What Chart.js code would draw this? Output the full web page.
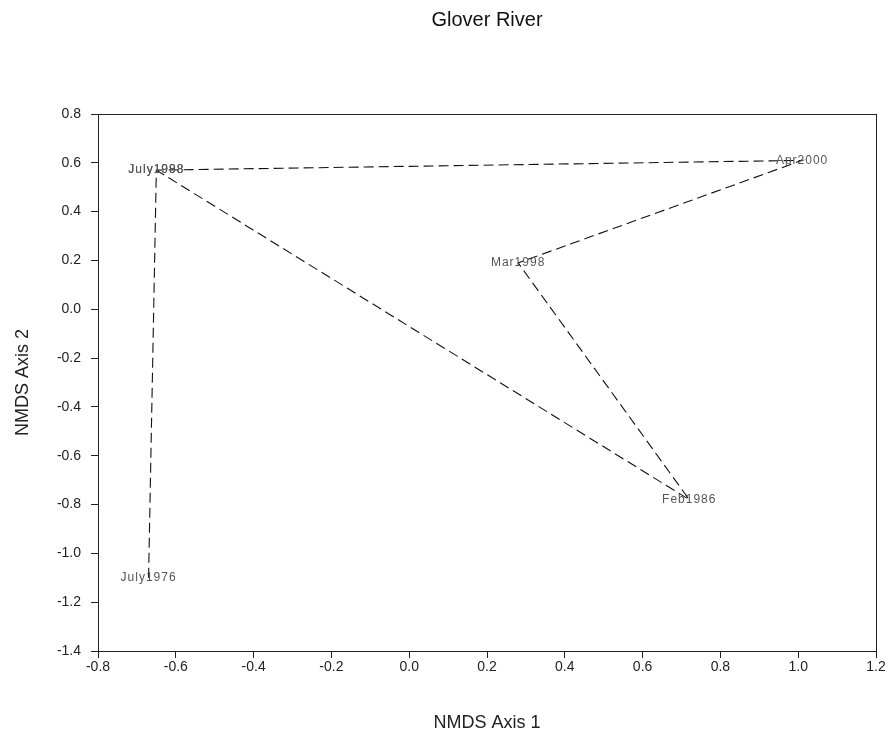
<!DOCTYPE html>
<html>
<head>
<meta charset="utf-8">
<script src="https://cdn.jsdelivr.net/npm/chart.js@4/dist/chart.umd.min.js"></script>
<style>
  body { margin: 0; background: #fff; }
  #wrap { width: 892px; height: 738px; }
</style>
</head>
<body>
<div id="wrap"><canvas id="myChart" width="892" height="738"></canvas></div>
<script>
'use strict';
// sample dates, in the order the trajectory is drawn
let sampleNames = ['July1976', 'July1988', 'Apr2000', 'Mar1998', 'Feb1986', 'July1998'];
let axis1 = [-0.67, -0.65, 1.01, 0.28, 0.72, -0.65];
let axis2 = [-1.10, 0.57, 0.61, 0.19, -0.78, 0.57];
let xTicks = [-0.8, -0.6, -0.4, -0.2, 0.0, 0.2, 0.4, 0.6, 0.8, 1.0, 1.2];
let yTicks = [0.8, 0.6, 0.4, 0.2, 0.0, -0.2, -0.4, -0.6, -0.8, -1.0, -1.2, -1.4];

let points = [];
for (let i = 0; i < sampleNames.length; i++) {
    points.push({ x: axis1[i], y: axis2[i] });
}

// frame around plot + point labels
let framePlugin = {
    id: 'frame',
    afterDatasetsDraw(chart) {
        let ctx = chart.ctx;
        let a = chart.chartArea;
        ctx.save();
        ctx.strokeStyle = '#222';
        ctx.lineWidth = 1;
        ctx.strokeRect(Math.round(a.left) + 0.5, Math.round(a.top) + 0.5,
            Math.round(a.right - a.left), Math.round(a.bottom - a.top));
        ctx.font = '12px Arial, "Liberation Sans", sans-serif';
        ctx.letterSpacing = '1px';
        ctx.fillStyle = '#555';
        ctx.textAlign = 'center';
        ctx.textBaseline = 'middle';
        let xs = chart.scales.x;
        let ys = chart.scales.y;
        for (let i = 0; i < sampleNames.length; i++) {
            ctx.fillText(sampleNames[i], xs.getPixelForValue(axis1[i]), ys.getPixelForValue(axis2[i]));
        }
        ctx.restore();
    }
};

let ctx = document.getElementById('myChart').getContext('2d');
let myChart = new Chart(ctx, {
    type: 'scatter',
    data: {
        datasets: [{
            data: points,
            showLine: true,
            borderColor: '#111',
            borderWidth: 1.1,
            borderDash: [10, 5],
            pointRadius: 0,
            fill: false
        }]
    },
    options: {
        responsive: false,
        animation: false,
        layout: { padding: { left: 0, right: 16, top: 0, bottom: 0 } },
        plugins: {
            legend: { display: false },
            tooltip: { enabled: false },
            title: {
                display: true,
                fullSize: false,
                text: 'Glover River',
                color: '#111',
                font: { family: 'Arial, "Liberation Sans", sans-serif', size: 20, weight: 'normal' },
                padding: { top: 8, bottom: 82 }
            }
        },
        scales: {
            x: {
                type: 'linear',
                min: -0.8,
                max: 1.2,
                afterBuildTicks(scale) {
                    scale.ticks = xTicks.map(v => ({ value: v }));
                },
                afterFit(scale) { scale.height = 87; },
                ticks: {
                    color: '#222',
                    font: { family: 'Arial, "Liberation Sans", sans-serif', size: 14 },
                    padding: 1,
                    callback: v => v.toFixed(1)
                },
                grid: { drawOnChartArea: false, color: '#222', tickLength: 7 },
                border: { color: '#222' },
                title: {
                    display: true,
                    text: 'NMDS Axis 1',
                    color: '#222',
                    font: { family: 'Arial, "Liberation Sans", sans-serif', size: 18 },
                    padding: { top: 4, bottom: 4 }
                }
            },
            y: {
                type: 'linear',
                min: -1.4,
                max: 0.8,
                afterBuildTicks(scale) {
                    scale.ticks = yTicks.map(v => ({ value: v }));
                },
                afterFit(scale) { scale.width = 98; },
                ticks: {
                    color: '#222',
                    font: { family: 'Arial, "Liberation Sans", sans-serif', size: 14 },
                    padding: 10,
                    callback: v => v.toFixed(1)
                },
                grid: { drawOnChartArea: false, color: '#222', tickLength: 7 },
                border: { color: '#222' },
                title: {
                    display: true,
                    text: 'NMDS Axis 2',
                    color: '#222',
                    font: { family: 'Arial, "Liberation Sans", sans-serif', size: 18 },
                    padding: { top: 12, bottom: 4 }
                }
            }
        }
    },
    plugins: [framePlugin]
});
</script>
</body>
</html>
